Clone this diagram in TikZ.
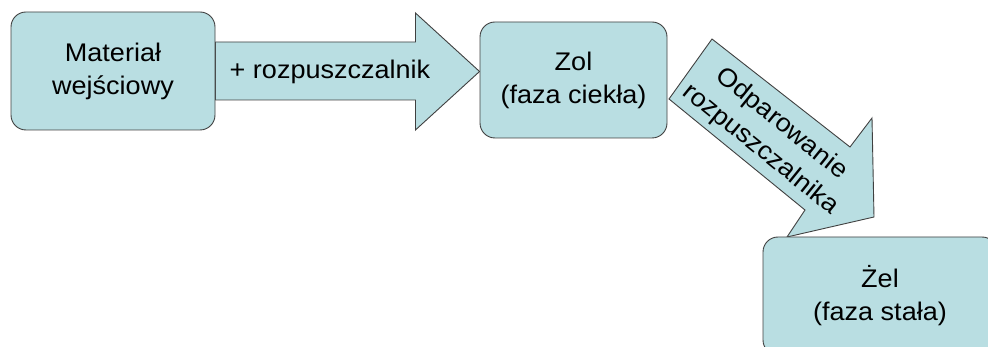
\documentclass[tikz,border=0pt]{standalone}
\usepackage{fontspec}
\setmainfont{Liberation Sans}[FakeStretch=1.06]
\usetikzlibrary{calc,backgrounds}
\definecolor{boxfill}{RGB}{185,222,226}
\definecolor{boxline}{RGB}{64,64,64}
\tikzset{
  box/.style={draw=boxline,fill=boxfill,line width=0.9pt,rounded corners=15pt,
    align=center,font=\fontsize{25.5}{33}\selectfont},
  blockarrow/.style={draw=boxline,fill=boxfill,line width=0.9pt,line join=miter},
  arrowtext/.style={align=center,font=\fontsize{25.5}{33}\selectfont}
}
\begin{document}
\begin{tikzpicture}[x=1pt,y=-1pt]
  \useasboundingbox (0,0) rectangle (988,347);
  % Stages
  \node[box,minimum width=204pt,minimum height=118pt] (mat) at (113,71) {Materiał\\wejściowy};
  \node[box,minimum width=187pt,minimum height=116pt] (zol) at (573.5,80) {Zol\\(faza ciekła)};
  \node[box,minimum width=234pt,minimum height=118pt] (zel) at (880,296) {Żel\\(faza stała)};
  % Block arrows, behind the boxes
  \begin{scope}[on background layer]
    \draw[blockarrow] ($(mat.east)+(0,-29)$) -- ++(200,0) -- ++(0,-29)
      -- ($(zol.west)+(0,-8.5)$) -- ($(mat.east)+(200,59)$) -- ++(0,-30)
      -- ($(mat.east)+(0,29)$) -- cycle;
    \draw[blockarrow] (712,39) -- (850,147) -- (872,118) -- (874,217)
      -- (787,237) -- (805,210) -- (669,99) -- cycle;
  \end{scope}
  % Labels
  \node[arrowtext] (add) at (330,72) {+ rozpuszczalnik};
  \node[arrowtext,rotate=-39] (evap) at (771,137) {Odparowanie\\rozpuszczalnika};
\end{tikzpicture}
\end{document}
